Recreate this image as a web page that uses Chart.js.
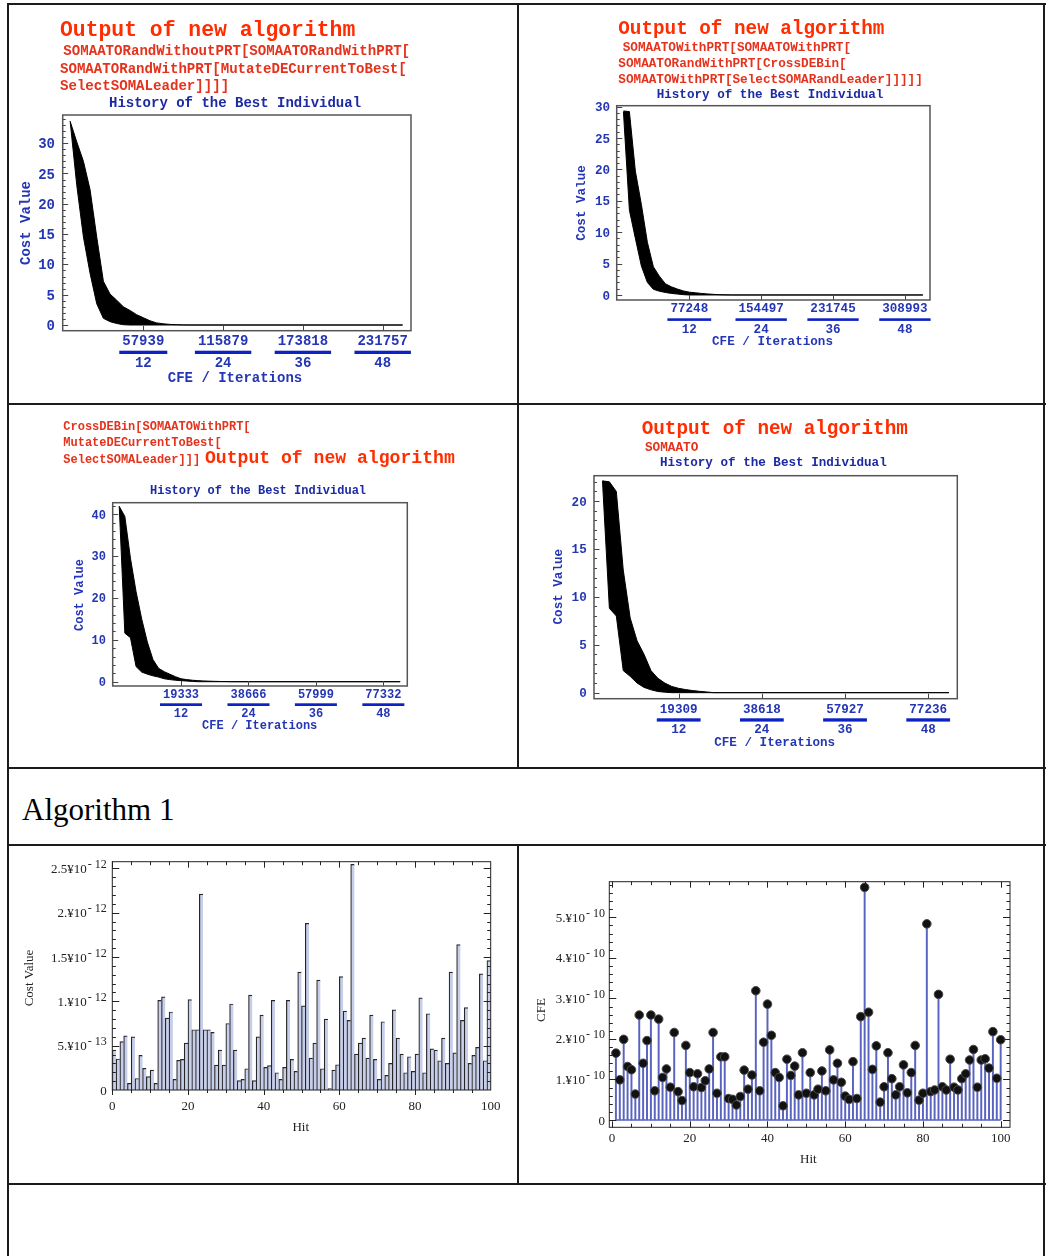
<!DOCTYPE html>
<html>
<head>
<meta charset="utf-8">
<title>Output of new algorithm</title>
<script src="https://cdn.jsdelivr.net/npm/chart.js"></script>
<style>
  html, body { margin: 0; padding: 0; background: #fff; overflow: hidden; }
  body { width: 1046px; height: 1256px; position: relative; }
  .rule { position: absolute; background: #1b1b1b; }
  .cell { position: absolute; }
  .txt { position: absolute; white-space: pre; }
</style>
</head>
<body>
<div class="cell" id="cellA"><canvas id="chartA"></canvas></div>
<div class="cell" id="cellB"><canvas id="chartB"></canvas></div>
<div class="cell" id="cellC"><canvas id="chartC"></canvas></div>
<div class="cell" id="cellD"><canvas id="chartD"></canvas></div>
<div class="cell" id="cellE"><canvas id="chartE"></canvas></div>
<div class="cell" id="cellF"><canvas id="chartF"></canvas></div>
<script>
// ---------- data ----------
const iterTicks = [12, 24, 36, 48];
const cfeA = ['57939', '115879', '173818', '231757'];
const cfeB = ['77248', '154497', '231745', '308993'];
const cfeC = ['19333', '38666', '57999', '77332'];
const cfeD = ['19309', '38618', '57927', '77236'];
const lastIter = 51;

// best-cost envelope of all runs (upper and lower edge), from iteration 1
const upperA = [33.6, 30.2, 27.0, 22.3, 14.5, 7.2, 5.1, 4.1, 3.0, 2.4, 1.7, 1.2, 0.7, 0.35, 0.2, 0.1, 0.05, 0.02, 0];
const lowerA = [33.6, 23.0, 14.5, 8.5, 3.5, 1.1, 0.55, 0.25, 0.05, 0];
const upperB = [29.3, 29.2, 19.7, 14.4, 8.4, 4.5, 3.0, 1.8, 1.3, 0.95, 0.65, 0.45, 0.35, 0.25, 0.17, 0.1, 0.05, 0.02, 0];
const lowerB = [29.2, 13.5, 9.0, 4.6, 2.0, 0.9, 0.6, 0.4, 0.25, 0.15, 0.05, 0];
const upperC = [41.9, 39.5, 29.5, 21.5, 15.0, 9.5, 5.3, 3.2, 2.4, 1.8, 1.2, 0.7, 0.5, 0.35, 0.25, 0.18, 0.12, 0.08, 0.05, 0.03, 0];
const lowerC = [41.9, 11.6, 10.5, 3.6, 2.3, 1.8, 1.4, 1.1, 0.7, 0.5, 0.35, 0.25, 0.15, 0.07, 0];
const upperD = [22.1, 22.0, 21.0, 12.8, 7.8, 5.4, 4.0, 2.3, 1.5, 1.0, 0.65, 0.45, 0.32, 0.22, 0.14, 0.08, 0];
const lowerD = [22.1, 8.8, 8.0, 2.3, 1.7, 1.0, 0.55, 0.3, 0.12, 0.05, 0];

// 100 hits: final cost (x 1e-12) and CFE (x 1e-10)
const hits = Array.from({ length: 100 }, (_, i) => i + 1);
const hitTicks = [0, 20, 40, 60, 80, 100];
const hitCost = [
  0.45, 0.35, 0.545, 0.61, 0.075, 0.60, 0.13, 0.39, 0.245, 0.15,
  0.225, 0.075, 1.01, 1.05, 0.81, 0.88, 0.12, 0.335, 0.345, 0.53,
  1.02, 0.68, 0.68, 2.21, 0.68, 0.68, 0.65, 0.28, 0.45, 0.28,
  0.75, 0.97, 0.45, 0.105, 0.12, 0.24, 1.07, 0.105, 0.60, 0.845,
  0.255, 0.275, 1.01, 0.195, 0.12, 0.255, 1.01, 0.345, 0.21, 1.33,
  0.95, 1.88, 0.36, 0.53, 1.24, 0.24, 0.80, 0.015, 0.225, 0.285,
  1.28, 0.89, 0.785, 2.545, 0.405, 0.53, 0.585, 0.36, 0.845, 0.345,
  0.12, 0.77, 0.165, 0.30, 0.905, 0.585, 0.405, 0.195, 0.375, 0.21,
  0.405, 1.04, 0.195, 0.86, 0.465, 0.45, 0.33, 0.585, 0.30, 1.33,
  0.42, 1.64, 0.785, 0.93, 0.30, 0.39, 0.48, 1.31, 0.33, 1.46
];
const hitCfe = [
  1.65, 0.99, 1.99, 1.32, 1.24, 0.64, 2.59, 1.40, 1.96, 2.59,
  0.72, 2.49, 1.05, 1.26, 0.81, 2.16, 0.70, 0.48, 1.84, 1.17,
  0.82, 1.14, 0.80, 0.97, 1.26, 2.16, 0.66, 1.56, 1.56, 0.53,
  0.51, 0.37, 0.58, 1.23, 0.76, 1.11, 3.19, 0.72, 1.92, 2.86,
  2.09, 1.17, 1.05, 0.35, 1.50, 1.10, 1.33, 0.62, 1.66, 0.66,
  1.17, 0.62, 0.76, 1.21, 0.72, 1.73, 0.99, 1.40, 0.93, 0.59,
  0.51, 1.44, 0.53, 2.55, 5.74, 2.66, 1.25, 1.83, 0.44, 0.82,
  1.66, 1.02, 0.62, 0.82, 1.36, 0.67, 1.17, 1.84, 0.49, 0.66,
  4.84, 0.70, 0.74, 3.10, 0.82, 0.74, 1.50, 0.81, 0.74, 1.02,
  1.14, 1.48, 1.74, 0.81, 1.48, 1.51, 1.28, 2.18, 1.03, 1.98
];
const costTicks = [0, 0.5, 1, 1.5, 2, 2.5];
const costTickText = ['0', '5.\u00a510', '1.\u00a510', '1.5\u00a510', '2.\u00a510', '2.5\u00a510'];
const costTickExp = ['', '- 13', '- 12', '- 12', '- 12', '- 12'];
const cfeTicks = [0, 1, 2, 3, 4, 5];
const cfeTickText = ['0', '1.\u00a510', '2.\u00a510', '3.\u00a510', '4.\u00a510', '5.\u00a510'];
const cfeTickExp = ['', '- 10', '- 10', '- 10', '- 10', '- 10'];

// ---------- page grid ----------
function rule(l, t, w, h) {
  const d = document.createElement('div');
  d.className = 'rule';
  d.style.cssText = `left:${l}px;top:${t}px;width:${w}px;height:${h}px`;
  document.body.appendChild(d);
}
[4, 404, 768, 845, 1184].forEach(y => rule(8, y - 1, 1038, 2));
rule(7, 3, 2, 1260);
rule(1043, 3, 2, 1260);
rule(517, 3, 2, 766);
rule(517, 844, 2, 341);

const RED = '#ff2d00', DARKRED = '#e5321c', BLUE = '#1c2aa4', TICKBLUE = '#2536b4';
const mono = px => `bold ${px}px "Liberation Mono"`;
const serif = px => `${px}px "Liberation Serif"`;

// text placed by its baseline
function words(text, x, base, size, color, family) {
  const el = document.createElement('div');
  el.className = 'txt';
  el.textContent = text;
  const isSerif = family === 'serif';
  const asc = isSerif ? 0.912 : 0.833;
  el.style.font = isSerif ? serif(size) : mono(size);
  el.style.lineHeight = 'normal';
  el.style.left = x + 'px';
  el.style.top = (base - asc * size) + 'px';
  el.style.color = color;
  document.body.appendChild(el);
}
words('Output of new algorithm', 60, 36, 21.4, RED);
words('SOMAATORandWithoutPRT[SOMAATORandWithPRT[', 63.3, 55, 14.1, DARKRED);
words('SOMAATORandWithPRT[MutateDECurrentToBest[', 60, 72.7, 14.1, DARKRED);
words('SelectSOMALeader]]]]', 60, 90, 14.1, DARKRED);

words('Output of new algorithm', 618.3, 34, 19.3, RED);
words('SOMAATOWithPRT[SOMAATOWithPRT[', 622.7, 50.7, 12.7, DARKRED);
words('SOMAATORandWithPRT[CrossDEBin[', 618.3, 66.7, 12.7, DARKRED);
words('SOMAATOWithPRT[SelectSOMARandLeader]]]]]', 618.3, 82.7, 12.7, DARKRED);

words('CrossDEBin[SOMAATOWithPRT[', 63.3, 430, 12, DARKRED);
words('MutateDECurrentToBest[', 63.3, 445.7, 12, DARKRED);
words('SelectSOMALeader]]]', 63.3, 463.3, 12, DARKRED);
words('Output of new algorithm', 205, 463.3, 18.1, RED);

words('Output of new algorithm', 641.7, 434, 19.3, RED);
words('SOMAATO', 645, 450.7, 12.7, DARKRED);

words('Algorithm 1', 22, 820, 31, '#000', 'serif');

// ---------- frame, ticks and labels drawn around the plot area ----------
const range = (a, b, step) => {
  const out = [];
  for (let v = a; v <= b + 1e-9; v += step) out.push(+v.toFixed(4));
  return out;
};

function frameFor(s) {
  return {
    id: 'frameBox',
    afterDatasetsDraw(chart) {
      const { ctx, chartArea: a } = chart;
      const sx = chart.scales.x, sy = chart.scales.y;
      const [ox, oy] = s.origin;
      ctx.save();

      ctx.strokeStyle = s.tickColor;
      ctx.lineWidth = 1;
      ctx.beginPath();
      for (const t of s.ticks) {
        for (const v of t.values) {
          if (t.side === 'left' || t.side === 'right') {
            const py = Math.round(sy.getPixelForValue(v)) + 0.5;
            if (py < a.top || py > a.bottom) continue;
            const x0 = t.side === 'left' ? a.left : a.right;
            const d = t.side === 'left' ? t.len : -t.len;
            ctx.moveTo(x0, py);
            ctx.lineTo(x0 + d, py);
          } else {
            const px = Math.round(sx.getPixelForValue(v)) + 0.5;
            if (px < a.left || px > a.right) continue;
            const y0 = t.side === 'top' ? a.top : a.bottom;
            const d = t.side === 'top' ? t.len : -t.len;
            ctx.moveTo(px, y0);
            ctx.lineTo(px, y0 + d);
          }
        }
      }
      ctx.stroke();

      ctx.strokeStyle = s.frameColor;
      ctx.lineWidth = s.frameWidth;
      ctx.strokeRect(a.left, a.top, a.right - a.left, a.bottom - a.top);

      if (s.yLabels) {
        const L = s.yLabels;
        L.values.forEach((v, i) => {
          const base = sy.getPixelForValue(v) + L.shift;
          let r = L.right - ox;
          ctx.fillStyle = L.color;
          ctx.textBaseline = 'alphabetic';
          if (L.exps && L.exps[i]) {
            ctx.font = L.expFont;
            const w = ctx.measureText(L.exps[i]).width;
            ctx.textAlign = 'left';
            ctx.fillText(L.exps[i], r - w, base - L.raise);
            r = r - w - 1;
          }
          ctx.font = L.font;
          ctx.textAlign = 'right';
          ctx.fillText(L.texts[i], r, base);
        });
      }

      if (s.xLabels) {
        const X = s.xLabels;
        ctx.font = X.font;
        ctx.fillStyle = X.color;
        ctx.textAlign = 'center';
        ctx.textBaseline = 'alphabetic';
        X.values.forEach(v => ctx.fillText(String(v), sx.getPixelForValue(v), X.base - oy));
      }

      if (s.cfe) {
        const C = s.cfe;
        ctx.font = C.font;
        ctx.textAlign = 'center';
        ctx.textBaseline = 'alphabetic';
        C.values.forEach((v, i) => {
          const px = sx.getPixelForValue(v);
          ctx.fillStyle = C.color;
          ctx.fillText(C.top[i], px, C.topBase - oy);
          ctx.fillText(String(v), px, C.bottomBase - oy);
          const w = ctx.measureText(C.top[i]).width + 6;
          ctx.fillStyle = C.barColor;
          ctx.fillRect(px - w / 2, C.barTop - oy, w, C.barH);
        });
      }

      for (const t of s.texts) {
        ctx.font = t.font;
        ctx.fillStyle = t.color;
        if (t.rotate) {
          ctx.save();
          ctx.translate(t.x - ox, t.y - oy);
          ctx.rotate(-Math.PI / 2);
          ctx.textAlign = 'center';
          ctx.textBaseline = 'middle';
          ctx.fillText(t.text, 0, 0);
          ctx.restore();
        } else {
          ctx.textAlign = t.align || 'left';
          ctx.textBaseline = 'alphabetic';
          ctx.fillText(t.text, t.x - ox, t.y - oy);
        }
      }
      ctx.restore();
    }
  };
}

function place(id, cell) {
  const el = document.getElementById(id);
  el.style.left = cell.l + 'px';
  el.style.top = cell.t + 'px';
  el.style.width = cell.w + 'px';
  el.style.height = cell.h + 'px';
}
const pad = (cell, f) => ({
  left: f.l - cell.l, top: f.t - cell.t,
  right: cell.l + cell.w - f.r, bottom: cell.t + cell.h - f.b
});
const baseOptions = (cell, frame, x, y) => ({
  responsive: true,
  maintainAspectRatio: false,
  animation: false,
  events: [],
  layout: { padding: pad(cell, frame) },
  plugins: { legend: { display: false }, tooltip: { enabled: false } },
  scales: {
    x: { type: 'linear', display: false, min: x[0], max: x[1], offset: false },
    y: { type: 'linear', display: false, min: y[0], max: y[1] }
  }
});

// ---------- history of the best individual ----------
const runPoints = vals => vals.map((v, i) => ({ x: i + 1, y: v })).concat({ x: lastIter, y: 0 });

function historyChart(canvasId, cellId, cell, frame, s) {
  place(cellId, cell);
  const f = mono(s.font);
  const spec = {
    origin: [cell.l, cell.t],
    frameColor: '#555', frameWidth: 1.5, tickColor: '#444',
    ticks: [
      { side: 'left', values: range(0, Math.floor(s.y[1]), s.minor), len: 3 },
      { side: 'left', values: s.yVals, len: 5.5 },
      { side: 'bottom', values: iterTicks, len: 5 }
    ],
    yLabels: { values: s.yVals, texts: s.yVals.map(String), right: s.yRight, font: f, color: TICKBLUE, shift: s.font * 0.36 },
    cfe: {
      values: iterTicks, top: s.cfe, font: f, color: TICKBLUE, barColor: '#0c22c2',
      topBase: s.cfeBase, barTop: s.barTop, barH: s.barH, bottomBase: s.iterBase
    },
    texts: [
      { text: 'History of the Best Individual', x: s.title[0], y: s.title[1], font: f, color: BLUE },
      { text: 'Cost Value', x: s.yTitle[0], y: s.yTitle[1], rotate: true, font: f, color: TICKBLUE },
      { text: 'CFE / Iterations', x: s.xTitle[0], y: s.xTitle[1], align: 'center', font: f, color: TICKBLUE }
    ]
  };
  new Chart(document.getElementById(canvasId), {
    type: 'line',
    data: {
      datasets: [
        { data: runPoints(s.upper), borderColor: '#000', borderWidth: 1, pointRadius: 0, tension: 0, fill: false },
        { data: runPoints(s.lower), borderColor: '#000', borderWidth: 1, pointRadius: 0, tension: 0,
          backgroundColor: '#000', fill: '-1' }
      ]
    },
    options: baseOptions(cell, frame, s.x, s.y),
    plugins: [frameFor(spec)]
  });
}

historyChart('chartA', 'cellA', { l: 9, t: 5, w: 508, h: 398 }, { l: 62.7, t: 115, r: 411, b: 330.7 }, {
  x: [-0.12, 52.26], y: [-0.94, 34.65], upper: upperA, lower: lowerA, font: 14,
  yVals: [0, 5, 10, 15, 20, 25, 30], minor: 1, yRight: 55, cfe: cfeA,
  title: [109, 106.7], yTitle: [26, 223], cfeBase: 345, barTop: 350.7, barH: 3.3, iterBase: 367.3, xTitle: [235, 381.7]
});
historyChart('chartB', 'cellB', { l: 519, t: 5, w: 525, h: 398 }, { l: 616.7, t: 105.7, r: 930, b: 300 }, {
  x: [-0.12, 52.19], y: [-0.8, 30.14], upper: upperB, lower: lowerB, font: 12.6,
  yVals: [0, 5, 10, 15, 20, 25, 30], minor: 1, yRight: 610, cfe: cfeB,
  title: [656.7, 97.7], yTitle: [582.3, 203], cfeBase: 311.7, barTop: 318.3, barH: 2.6, iterBase: 332.7, xTitle: [772.5, 345]
});
historyChart('chartC', 'cellC', { l: 9, t: 405, w: 508, h: 362 }, { l: 112.7, t: 502.7, r: 407.3, b: 686 }, {
  x: [-0.16, 52.26], y: [-1.03, 42.77], upper: upperC, lower: lowerC, font: 12,
  yVals: [0, 10, 20, 30, 40], minor: 2, yRight: 106, cfe: cfeC,
  title: [150, 494.3], yTitle: [80, 595], cfeBase: 698.3, barTop: 703.3, barH: 2.7, iterBase: 717.3, xTitle: [259.7, 729.3]
});
historyChart('chartD', 'cellD', { l: 519, t: 405, w: 525, h: 362 }, { l: 594, t: 475.7, r: 957.3, b: 698.7 }, {
  x: [-0.22, 52.2], y: [-0.63, 22.64], upper: upperD, lower: lowerD, font: 12.6,
  yVals: [0, 5, 10, 15, 20], minor: 1, yRight: 586.7, cfe: cfeD,
  title: [660, 466], yTitle: [559.3, 586.7], cfeBase: 712.7, barTop: 718.3, barH: 3.3, iterBase: 733.3, xTitle: [774.7, 746]
});

// ---------- cost value per hit (bars) ----------
const cellE = { l: 9, t: 846, w: 508, h: 337 };
const frameE = { l: 112.3, t: 861.7, r: 490.7, b: 1090 };
place('cellE', cellE);
new Chart(document.getElementById('chartE'), {
  type: 'bar',
  data: {
    datasets: [{
      data: hitCost.map((v, i) => ({ x: hits[i] - 0.5, y: v })),
      backgroundColor: '#c7cee9',
      borderColor: '#262626',
      borderWidth: { top: 1.2, left: 1.2, right: 0, bottom: 0 },
      borderSkipped: 'start',
      barPercentage: 1,
      categoryPercentage: 1
    }]
  },
  options: baseOptions(cellE, frameE, [0, 100], [0, 2.575]),
  plugins: [frameFor({
    origin: [cellE.l, cellE.t],
    frameColor: '#222', frameWidth: 1, tickColor: '#222',
    ticks: [
      { side: 'left', values: range(0, 2.5, 0.1), len: 3.5 },
      { side: 'left', values: costTicks, len: 7 },
      { side: 'right', values: range(0, 2.5, 0.1), len: 3.5 },
      { side: 'right', values: costTicks, len: 7 },
      { side: 'top', values: range(0, 100, 5), len: 3.5 },
      { side: 'top', values: hitTicks, len: 6 },
      { side: 'bottom', values: range(0, 100, 5), len: -3 },
      { side: 'bottom', values: hitTicks, len: -5 }
    ],
    yLabels: { values: costTicks, texts: costTickText, exps: costTickExp, right: 106.7,
      font: serif(13), expFont: serif(12), raise: 5, color: '#222', shift: 4.5 },
    xLabels: { values: hitTicks, base: 1110, font: serif(13), color: '#222' },
    texts: [
      { text: 'Hit', x: 300.7, y: 1131, align: 'center', font: serif(13), color: '#222' },
      { text: 'Cost Value', x: 30, y: 978, rotate: true, font: serif(13), color: '#222' }
    ]
  })]
});

// ---------- CFE per hit (stems) ----------
const cellF = { l: 519, t: 846, w: 525, h: 337 };
const frameF = { l: 609.3, t: 881.7, r: 1010, b: 1127.3 };
const STEM = '#5963c0';
place('cellF', cellF);
const cfePoints = hitCfe.map((v, i) => ({ x: hits[i], y: v }));
new Chart(document.getElementById('chartF'), {
  type: 'bar',
  data: {
    datasets: [
      { type: 'line', data: cfePoints, showLine: false, pointRadius: 4.3, pointStyle: 'circle',
        pointBackgroundColor: '#111', pointBorderColor: '#4a4a4a', pointBorderWidth: 1, order: 0 },
      { data: cfePoints, backgroundColor: STEM, barThickness: 1.3, order: 1 },
      { type: 'line', data: [{ x: hits[0], y: 0 }, { x: hits[hits.length - 1], y: 0 }],
        borderColor: STEM, borderWidth: 1.3, pointRadius: 0, order: 2 }
    ]
  },
  options: baseOptions(cellF, frameF, [-0.7, 102.4], [-0.18, 5.88]),
  plugins: [frameFor({
    origin: [cellF.l, cellF.t],
    frameColor: '#222', frameWidth: 1, tickColor: '#222',
    ticks: [
      { side: 'left', values: range(0, 5.8, 0.2), len: 3.5 },
      { side: 'left', values: cfeTicks, len: 7 },
      { side: 'right', values: range(0, 5.8, 0.2), len: 3.5 },
      { side: 'right', values: cfeTicks, len: 7 },
      { side: 'top', values: range(0, 100, 5), len: 3.5 },
      { side: 'top', values: hitTicks, len: 6 },
      { side: 'bottom', values: range(0, 100, 5), len: 3.5 },
      { side: 'bottom', values: hitTicks, len: 6 }
    ],
    yLabels: { values: cfeTicks, texts: cfeTickText, exps: cfeTickExp, right: 605,
      font: serif(13), expFont: serif(12), raise: 5, color: '#222', shift: 4.5 },
    xLabels: { values: hitTicks, base: 1141.5, font: serif(13), color: '#222' },
    texts: [
      { text: 'Hit', x: 808.3, y: 1162.5, align: 'center', font: serif(13), color: '#222' },
      { text: 'CFE', x: 541.7, y: 1010, rotate: true, font: serif(13), color: '#222' }
    ]
  })]
});
</script>
</body>
</html>
